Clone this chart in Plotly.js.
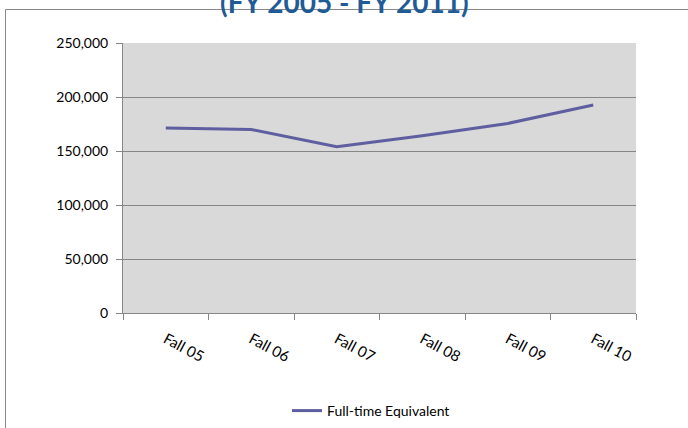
<!DOCTYPE html>
<html><head><meta charset="utf-8">
<script src="https://cdn.plot.ly/plotly-3.0.1.min.js"></script>
<style>html,body{margin:0;padding:0;background:#fff;}#chart{width:688px;height:428px;}</style>
</head><body><div id="chart"></div>
<script>
const categories = ["Fall 05", "Fall 06", "Fall 07", "Fall 08", "Fall 09", "Fall 10"];
const fteValues = [171200, 169900, 154000, 164100, 175500, 192600];
const seriesName = "Full-time Equivalent";
const titleText = "(FY 2005 - FY 2011)";
const yTickValues = [0, 50000, 100000, 150000, 200000, 250000];

const font = "Lato, 'Open Sans', sans-serif";
const trace = {
  type: "scatter", mode: "lines", x: categories, y: fteValues, name: seriesName,
  line: {color: "#5E5EA0", width: 3}
};
const L = 123, R = 52, T = 43, B = 115, W = 688, H = 428;
const pw = W - L - R, ph = H - T - B;
const px = x => (x - L) / pw;
const py = y => (H - B - y) / ph;

const layout = {
  width: W, height: H,
  margin: {l: L, r: R, t: T, b: B, pad: 0, autoexpand: false},
  paper_bgcolor: "#fff", plot_bgcolor: "#D9D9D9",
  font: {family: font, size: 12, color: "#000"},
  showlegend: true,
  legend: {orientation: "h", xref: "container", yref: "container", x: 287 / W, xanchor: "left",
           y: (H - 411) / H, yanchor: "middle",
           font: {family: font, size: 14, color: "#000"}, bgcolor: "rgba(0,0,0,0)"},
  xaxis: {type: "category", tickson: "boundaries", ticks: "outside", ticklen: 6, tickcolor: "#868686",
          showline: true, linecolor: "#868686", linewidth: 1, showgrid: false, zeroline: false,
          tickangle: 28, tickfont: {family: font, size: 15, color: "#000"}, ticklabelstandoff: 11,
          automargin: false, range: [-0.5, 5.5]},
  yaxis: {range: [0, 250000], tickvals: yTickValues, tickformat: ",d", ticks: "outside", ticklen: 6,
          tickcolor: "#868686", showline: true, linecolor: "#868686", linewidth: 1,
          showgrid: true, gridcolor: "#868686", gridwidth: 1, zeroline: false, automargin: false,
          tickfont: {family: font, size: 14, color: "#000"}, ticklabelstandoff: 5},
  shapes: [
    {type: "line", xref: "paper", yref: "paper", x0: px(5.5), x1: px(700), y0: py(9.5), y1: py(9.5),
     line: {color: "#888", width: 1}},
    {type: "line", xref: "paper", yref: "paper", x0: px(5.5), x1: px(5.5), y0: py(9.5), y1: py(440),
     line: {color: "#888", width: 1}}
  ],
  annotations: [
    {text: "<b>" + titleText + "</b>", xref: "paper", yref: "paper", x: px(344), y: py(21),
     xanchor: "center", yanchor: "bottom", showarrow: false,
     font: {family: font, size: 28, color: "#1F5B96"}}
  ]
};
Plotly.newPlot("chart", [trace], layout, {displayModeBar: false, staticPlot: true});
</script></body></html>
